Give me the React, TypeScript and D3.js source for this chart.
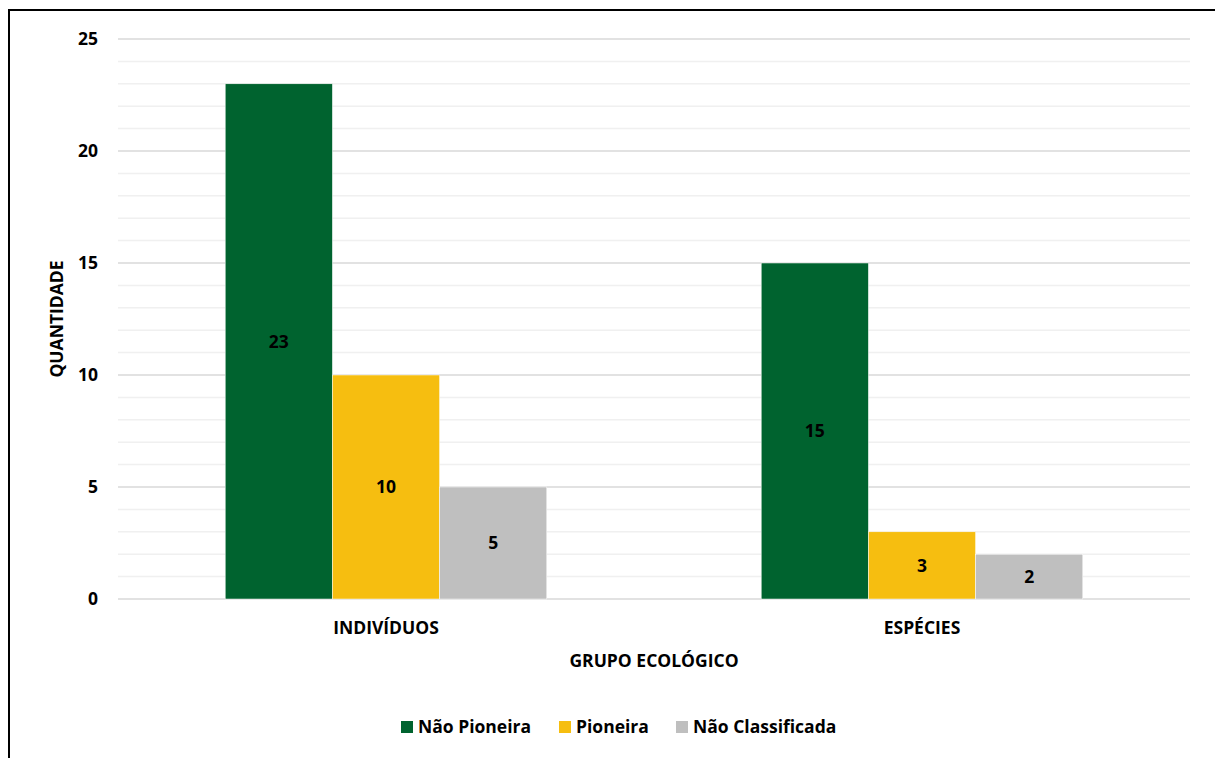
import React from "react";
import * as d3 from "d3";

const categories = ["INDIVÍDUOS", "ESPÉCIES"];
const seriesNames = ["Não Pioneira", "Pioneira", "Não Classificada"];
const naoPioneira = [23, 15];
const pioneira = [10, 3];
const naoClassificada = [5, 2];
const colors = ["#00632F", "#F6BE10", "#BFBFBF"];
const yTicks = [0, 5, 10, 15, 20, 25];
const minorTicks = d3.range(0, 26, 1);

const W = 1215;
const H = 758;
const margin = { left: 118, right: 25, top: 39, bottom: 158 };
const FONT = "'Open Sans', Lato, sans-serif";
const FS = 17.5;

export default function App() {
  const series = [naoPioneira, pioneira, naoClassificada];
  const x0 = d3.scaleBand<string>().domain(categories).range([margin.left, W - margin.right]);
  const y = d3.scaleLinear().domain([0, 25]).range([H - margin.bottom - 1, margin.top]);
  const step = x0.bandwidth();
  const groupW = step * 3 / 5; // gap width 200%
  const x1 = d3.scaleBand<number>().domain([0, 1, 2]).range([0, groupW]).padding(0);

  const legendX = [401, 559, 676];

  return (
    <svg width={W} height={H} style={{ position: "absolute", left: 0, top: 0, background: "#fff" }}>
      <rect x={9} y={10} width={W + 20} height={H + 20} fill="#fff" stroke="#000" strokeWidth={2} />
      {minorTicks.map((t) => (
        <line key={"m" + t} x1={margin.left} x2={W - margin.right} y1={y(t)} y2={y(t)}
          stroke={t % 5 === 0 ? "#D9D9D9" : "#F0F0F0"} strokeWidth={1.5} />
      ))}
      {yTicks.map((t) => (
        <text key={"t" + t} x={98} y={y(t)} dy="0.35em" textAnchor="end" fontFamily={FONT}
          fontWeight={700} fontSize={FS} fill="#000">{t}</text>
      ))}
      {categories.map((c, ci) => {
        const gx = (x0(c) as number) + (step - groupW) / 2;
        return (
          <g key={c}>
            {series.map((s, si) => {
              const bx = gx + (x1(si) as number);
              const by = y(s[ci]);
              const bh = y(0) - by;
              return (
                <g key={si}>
                  <rect x={bx} y={by} width={x1.bandwidth()} height={bh} fill={colors[si]}
                    stroke="#fff" strokeWidth={0.5} />
                  <text x={bx + x1.bandwidth() / 2} y={by + bh / 2} dy="0.35em" textAnchor="middle"
                    fontFamily={FONT} fontWeight={700} fontSize={FS} fill="#000">{s[ci]}</text>
                </g>
              );
            })}
            <text x={(x0(c) as number) + step / 2} y={628} dy="0.35em" textAnchor="middle"
              fontFamily={FONT} fontWeight={700} fontSize={FS} fill="#000">{c}</text>
          </g>
        );
      })}
      <text transform={`translate(57, ${(y(0) + y(25)) / 2}) rotate(-90)`} dy="0.35em" textAnchor="middle"
        fontFamily={FONT} fontWeight={700} fontSize={FS} fill="#000">QUANTIDADE</text>
      <text x={(margin.left + W - margin.right) / 2} y={661} dy="0.35em" textAnchor="middle"
        fontFamily={FONT} fontWeight={700} fontSize={FS} fill="#000">GRUPO ECOLÓGICO</text>
      {seriesNames.map((n, i) => (
        <g key={n}>
          <rect x={legendX[i]} y={721} width={12} height={12} fill={colors[i]} />
          <text x={legendX[i] + 17} y={727} dy="0.35em" fontFamily={FONT} fontWeight={700}
            fontSize={FS} fill="#000">{n}</text>
        </g>
      ))}
    </svg>
  );
}
